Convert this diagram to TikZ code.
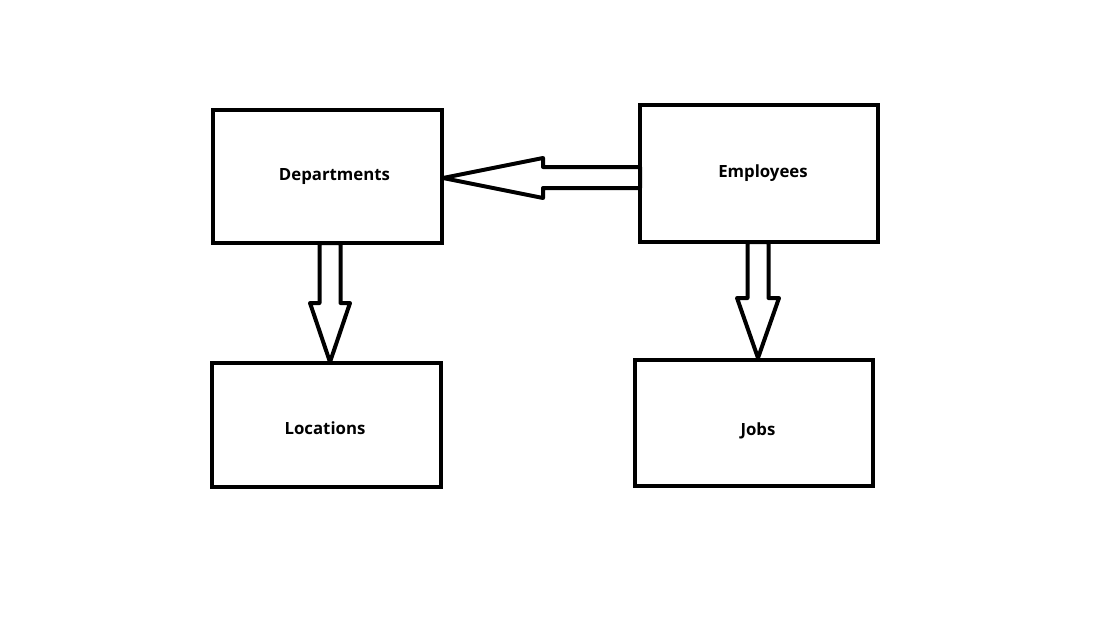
\documentclass[tikz,border=0pt]{standalone}
\usepackage{fontspec}
\setmainfont{Open Sans}
\usepackage{tikz}
\usetikzlibrary{calc}

\begin{document}
\begin{tikzpicture}[x=0.75pt,y=-0.75pt]
\tikzstyle{every node}+=[inner sep=0pt,outer sep=0pt]
\tikzstyle{table}=[draw=black,line width=3.2pt]
\tikzstyle{tname}=[font=\fontsize{12.6}{15}\selectfont\bfseries]
\tikzstyle{blockarrow}=[draw=black,line width=3pt,line join=round]
\useasboundingbox (0,0) rectangle (1110,625);
\node [table,minimum width=171.75pt,minimum height=99.75pt] (dep) at (327.5,176.5) {};
\node [table,minimum width=178.5pt,minimum height=102.75pt] (emp) at (759,173.5) {};
\node [table,minimum width=171.75pt,minimum height=93pt] (loc) at (326.5,425) {};
\node [table,minimum width=178.5pt,minimum height=94.5pt] (job) at (754,423) {};
\node [tname] (depname) at ($(dep.center)+(7,0.5)$) {Departments};
\node [tname] (empname) at ($(emp.center)+(4,-0.5)$) {Employees};
\node [tname] (locname) at ($(loc.center)+(-1.5,3)$) {Locations};
\node [tname] (jobname) at ($(job.center)+(4,8)$) {Jobs};
\draw [blockarrow] ($(dep.east)+(1,1.5)$) -- ++(100,-20) -- ++(0,9) -- ++(97,0)
  -- ++(0,21) -- ++(-97,0) -- ++(0,10) -- cycle;
\draw [blockarrow] ($(loc.north)+(3.5,-1)$) -- ++(-20,-59) -- ++(9.5,0) -- ++(0,-60)
  -- ++(21,0) -- ++(0,60) -- ++(9.5,0) -- cycle;
\draw [blockarrow] ($(job.north)+(4,-2)$) -- ++(-21,-60) -- ++(10.5,0) -- ++(0,-56)
  -- ++(21,0) -- ++(0,56) -- ++(10.5,0) -- cycle;
\end{tikzpicture}
\end{document}
